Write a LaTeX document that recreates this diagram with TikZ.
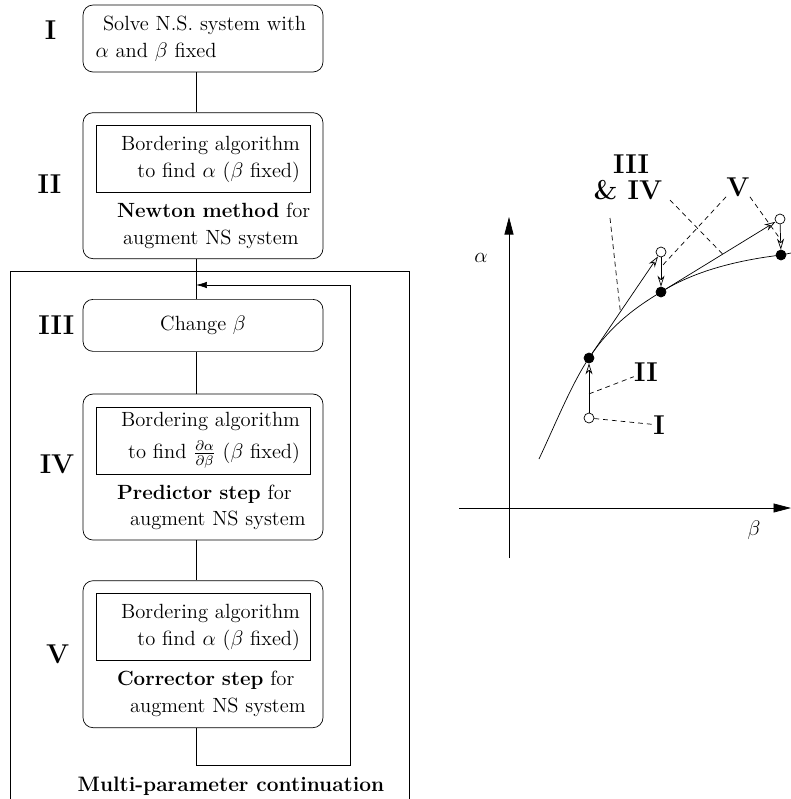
\documentclass[tikz,border=0pt]{standalone}
\usepackage{amsmath}
\usetikzlibrary{arrows.meta,positioning}

\begin{document}
\begin{tikzpicture}[x=0.02cm,y=-0.02cm,
    font=\fontsize{11.7}{15.2}\selectfont,
    stage/.style={rectangle,draw,rounded corners=0.2cm,minimum width=4.8cm,inner sep=0pt},
    algo/.style={rectangle,draw,text width=3.88cm,inner xsep=0.2cm,inner ysep=0pt,minimum height=1.34cm,align=right},
    remark/.style={text width=4.4cm,align=left,inner sep=0pt},
    tag/.style={font=\fontsize{15.5}{18}\selectfont\bfseries,inner sep=0pt},
    dot/.style={circle,draw,fill,inner sep=0pt,minimum size=0.2cm},
    ring/.style={circle,draw,fill=white,inner sep=0pt,minimum size=0.2cm},
    leader/.style={dash pattern=on 2.8pt off 2.2pt},
    move/.style={-{Stealth[open,length=2.2mm,width=1.4mm]}},
    axis/.style={-{Triangle[length=3.5mm,width=1.8mm]}},
    back/.style={-{Latex[length=2.2mm,width=1.3mm]}}
]
\useasboundingbox (0,0) rectangle (791,799);

% flow chart
\node[stage,minimum height=1.34cm,text width=4.3cm,align=left] (solve) at (203,38.5)
    {\hspace*{0.15cm}Solve N.S. system with\\$\alpha$ and $\beta$ fixed};
\node[stage,minimum height=2.92cm,below=0.8cm of solve] (newton) {};
\node[algo,below=0.26cm of newton.north] (newtonalg) {Bordering algorithm\\to find $\alpha$ ($\beta$ fixed)};
\node[remark,below=0.2cm of newtonalg] (newtontxt)
    {\hspace*{0.48cm}\textbf{Newton method} for\\\hspace*{0.6cm}augment NS system};
\node[stage,minimum height=1.04cm,below=0.8cm of newton] (change) {Change $\beta$};
\node[stage,minimum height=2.92cm,below=0.84cm of change] (predict) {};
\node[algo,below=0.26cm of predict.north] (predictalg)
    {Bordering algorithm\\[0.1cm]to find $\frac{\partial\alpha}{\partial\beta}$ ($\beta$ fixed)};
\node[remark,below=0.2cm of predictalg] (predicttxt)
    {\hspace*{0.48cm}\textbf{Predictor step} for\\\hspace*{0.74cm}augment NS system};
\node[stage,minimum height=2.94cm,below=0.8cm of predict] (correct) {};
\node[algo,below=0.26cm of correct.north] (correctalg) {Bordering algorithm\\to find $\alpha$ ($\beta$ fixed)};
\node[remark,below=0.2cm of correctalg] (correcttxt)
    {\hspace*{0.48cm}\textbf{Corrector step} for\\\hspace*{0.74cm}augment NS system};

\node[tag,left=0.52cm of solve.west,yshift=0.17cm] (tagI) {I};
\node[tag,left=0.42cm of newton,yshift=0.04cm] (tagII) {II};
\node[tag,left=0.16cm of change] (tagIII) {III};
\node[tag,left=0.16cm of predict,yshift=0.06cm] (tagIV) {IV};
\node[tag,left=0.26cm of correct] (tagV) {V};

\coordinate (spine) at (196,0);
\coordinate (turn) at (350,765);
\coordinate (reentry) at (196,285);
\draw (solve.south -| spine) -- (newton.north -| spine);
\draw (newton.south -| spine) -- (change.north -| spine);
\draw (change.south -| spine) -- (predict.north -| spine);
\draw (predict.south -| spine) -- (correct.north -| spine);
\draw[back] (correct.south -| spine) |- (turn) |- (reentry);

\draw (10,799) |- (409,271) -- (409,799);
\node[font=\fontsize{11.9}{14}\selectfont\bfseries] (mpc) at (231,786) {Multi-parameter continuation};

% continuation sketch
\draw[axis] (459,508) -- (791,508);
\draw[axis] (509,558) -- (509,217);
\node (alab) at (481,258) {$\alpha$};
\node (blab) at (754,530) {$\beta$};

\draw (539,459) .. controls (555,425) and (572,383) .. (589,358)
    .. controls (609,328) and (631,310) .. (661,292)
    .. controls (696,270) and (740,260) .. (781,255) -- (791,253);

\node[dot] (ptA) at (589,358) {};
\node[dot] (ptB) at (661,292) {};
\node[dot] (ptC) at (781,255) {};
\node[ring] (ptI) at (589,418) {};
\node[ring] (ptP) at (661,252) {};
\node[ring] (ptQ) at (780,219) {};

\draw[move] (ptI) -- (ptA);
\draw[move] (ptA) -- (ptP);
\draw[move] (ptP) -- (ptB);
\draw[move] (ptB) -- (ptQ);
\draw[move] (ptQ) -- (ptC);

\path (ptI) -- (ptA) coordinate[pos=0.38] (onIA);
\path (ptA) -- (ptP) coordinate[pos=0.43] (onAP);
\path (ptP) -- (ptB) coordinate[pos=0.33] (onPB);
\path (ptB) -- (ptQ) coordinate[pos=0.52] (onBQ);
\path (ptQ) -- (ptC) coordinate[pos=0.6] (onQC);

\node[tag] (lblI) at (659,425) {I};
\node[tag] (lblII) at (646,372) {II};
\node[tag] (lblIII) at (631,164) {III};
\node[tag] (lblIV) at (628,190) {\& IV};
\node[tag] (lblV) at (738,187) {V};
\coordinate (fromIII) at (610,218);
\coordinate (fromIV) at (670,200);

\draw[leader] (ptI) -- (lblI);
\draw[leader] (onIA) -- (lblII);
\draw[leader] (fromIII) -- (onAP);
\draw[leader] (fromIV) -- (onBQ);
\draw[leader] (lblV.south west) -- (onPB);
\draw[leader] (lblV.south east) -- (onQC);
\end{tikzpicture}
\end{document}
